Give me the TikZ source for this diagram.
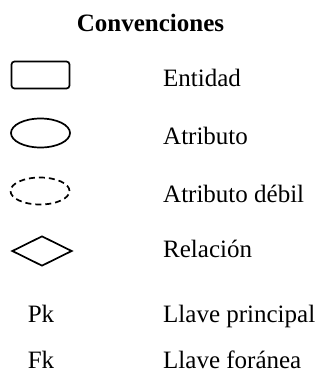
\documentclass[tikz,border=0pt]{standalone}
\usepackage{fontspec}
\setmainfont{Liberation Serif}
\usepackage{tikz}
\usetikzlibrary{shapes.geometric}

\begin{document}
\begin{tikzpicture}[x=1pt,y=-1pt,
  lbl/.style={font=\fontsize{25}{30}\selectfont,anchor=base west,inner sep=0pt},
  shp/.style={draw,line width=1.7pt,inner sep=0pt}]
\useasboundingbox (0,0) rectangle (321,381);
\node [font=\fontsize{25}{30}\selectfont\bfseries,anchor=base,inner sep=0pt] (tit) at (150.5,31) {Convenciones};

\node [shp,rounded corners=3pt,minimum width=58pt,minimum height=27pt] (ent) at (40.5,75) {};
\node [lbl] (ent1) at (163,86) {Entidad};

\node [shp,ellipse,minimum width=59pt,minimum height=29pt] (atr) at (40.5,133) {};
\node [lbl] (atr1) at (163,144) {Atributo};

\node [shp,ellipse,dash pattern=on 6pt off 4pt,minimum width=59pt,minimum height=27pt] (deb) at (40,191) {};
\node [lbl] (deb1) at (163,202) {Atributo débil};

\node [shp,diamond,aspect=2,minimum width=60pt,minimum height=30pt] (rel) at (42,251) {};
\node [lbl] (rel1) at (163,257) {Relación};

\node [lbl,anchor=base] (pk) at (41,322) {Pk};
\node [lbl] (pk1) at (163,322) {Llave principal};

\node [lbl,anchor=base] (fk) at (41,368) {Fk};
\node [lbl] (fk1) at (163,368) {Llave foránea};
\end{tikzpicture}
\end{document}
